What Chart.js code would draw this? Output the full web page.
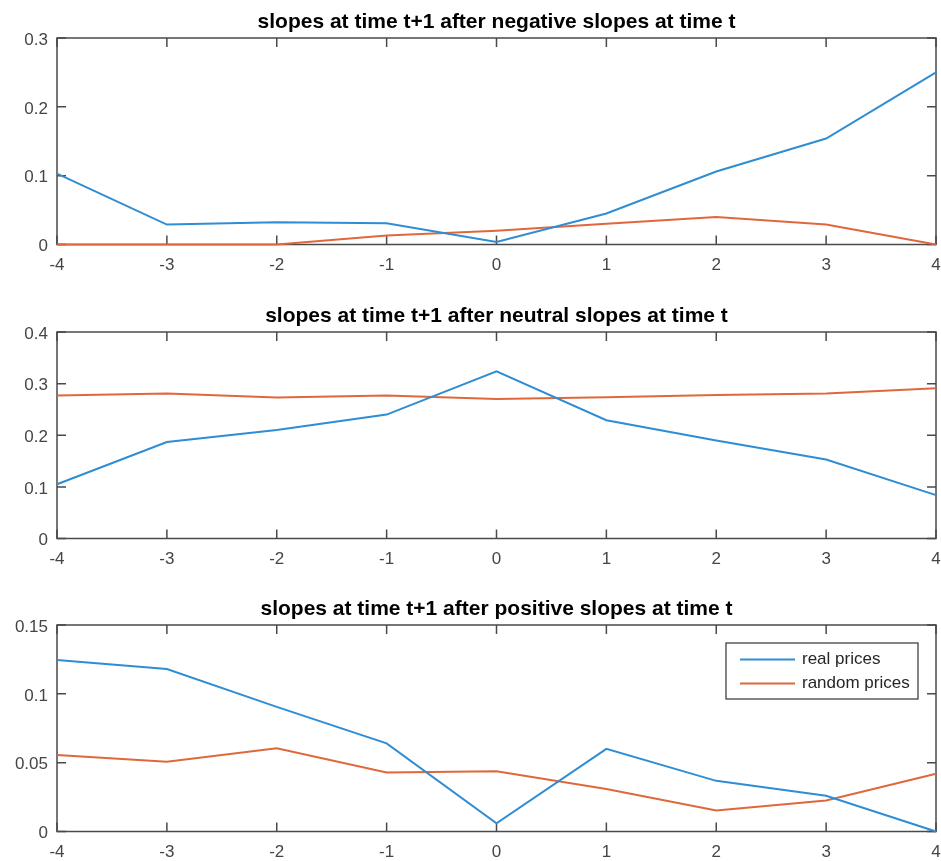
<!DOCTYPE html>
<html>
<head>
<meta charset="utf-8">
<script src="https://cdn.jsdelivr.net/npm/chart.js@4"></script>
<style>
  body { margin: 0; background: #fff; }
  .panel { position: absolute; left: 0; width: 941px; height: 274px; }
</style>
</head>
<body>
<div class="panel" style="top:0px"><canvas id="negChart" width="941" height="274"></canvas></div>
<div class="panel" style="top:293.5px"><canvas id="neuChart" width="941" height="274"></canvas></div>
<div class="panel" style="top:587px"><canvas id="posChart" width="941" height="274"></canvas></div>
<script>
const xValues = [-4, -3, -2, -1, 0, 1, 2, 3, 4];

const negReal   = [0.103, 0.029, 0.0325, 0.031, 0.0035, 0.045, 0.106, 0.154, 0.25];
const negRandom = [0, 0, 0, 0.013, 0.020, 0.030, 0.040, 0.029, 0];

const neuReal   = [0.105, 0.187, 0.210, 0.240, 0.324, 0.229, 0.190, 0.153, 0.084];
const neuRandom = [0.277, 0.281, 0.273, 0.277, 0.270, 0.2735, 0.278, 0.281, 0.291];

const posReal   = [0.1246, 0.118, 0.0905, 0.064, 0.006, 0.060, 0.0368, 0.026, 0];
const posRandom = [0.0556, 0.0506, 0.0605, 0.0428, 0.0438, 0.0308, 0.0152, 0.0225, 0.042];

const yTicksNeg = [0, 0.1, 0.2, 0.3];
const yTicksNeu = [0, 0.1, 0.2, 0.3, 0.4];
const yTicksPos = [0, 0.05, 0.1, 0.15];

const seriesNames = ["real prices", "random prices"];
const titles = [
  "slopes at time t+1 after negative slopes at time t",
  "slopes at time t+1 after neutral slopes at time t",
  "slopes at time t+1 after positive slopes at time t"
];

const BLUE = "#2f8dd4";
const ORANGE = "#e0673c";
const AXIS = "#4a4a4a";
const FONT = "'Liberation Sans', Arial, Helvetica, sans-serif";

// matlab style box with inward ticks on all four sides, under the lines
const boxPlugin = {
  id: "box",
  beforeDatasetsDraw(chart) {
    const { ctx, chartArea: a, scales } = chart;
    const tl = 9;
    ctx.save();
    ctx.strokeStyle = AXIS;
    ctx.lineWidth = 1.5;
    ctx.strokeRect(a.left, a.top, a.right - a.left, a.bottom - a.top);
    ctx.beginPath();
    scales.x.ticks.forEach(t => {
      const px = scales.x.getPixelForValue(t.value);
      ctx.moveTo(px, a.bottom); ctx.lineTo(px, a.bottom - tl);
      ctx.moveTo(px, a.top); ctx.lineTo(px, a.top + tl);
    });
    scales.y.ticks.forEach(t => {
      const py = scales.y.getPixelForValue(t.value);
      ctx.moveTo(a.left, py); ctx.lineTo(a.left + tl, py);
      ctx.moveTo(a.right, py); ctx.lineTo(a.right - tl, py);
    });
    ctx.stroke();
    ctx.restore();
  }
};

// legend box in the upper right corner (northeast)
const legendBoxPlugin = {
  id: "legendBox",
  afterDraw(chart) {
    const { ctx, chartArea: a } = chart;
    const w = 192, h = 56;
    const bx = a.right - 18 - w, by = a.top + 18;
    ctx.save();
    ctx.fillStyle = "#fff";
    ctx.fillRect(bx, by, w, h);
    ctx.strokeStyle = "#333";
    ctx.lineWidth = 1.2;
    ctx.strokeRect(bx, by, w, h);
    ctx.font = "17px " + FONT;
    ctx.textBaseline = "middle";
    chart.data.datasets.forEach((ds, i) => {
      const yy = by + 16.5 + i * 24;
      ctx.strokeStyle = ds.borderColor;
      ctx.lineWidth = 2;
      ctx.beginPath();
      ctx.moveTo(bx + 14, yy);
      ctx.lineTo(bx + 69, yy);
      ctx.stroke();
      ctx.fillStyle = "#262626";
      ctx.fillText(ds.label, bx + 76, yy);
    });
    ctx.restore();
  }
};

function makeChart(id, title, real, random, yTicks, withLegend) {
  const ctx = document.getElementById(id).getContext("2d");
  const yMax = yTicks[yTicks.length - 1];
  return new Chart(ctx, {
    type: "line",
    data: {
      datasets: [
        {
          label: seriesNames[0],
          data: xValues.map((x, i) => ({ x: x, y: real[i] })),
          borderColor: BLUE,
          borderWidth: 2,
          pointRadius: 0,
          tension: 0,
          clip: 3
        },
        {
          label: seriesNames[1],
          data: xValues.map((x, i) => ({ x: x, y: random[i] })),
          borderColor: ORANGE,
          borderWidth: 2,
          pointRadius: 0,
          tension: 0,
          clip: 3
        }
      ]
    },
    options: {
      responsive: false,
      animation: false,
      layout: { padding: { top: 0, left: 0, right: 5, bottom: 0 } },
      plugins: {
        legend: { display: false },
        tooltip: { enabled: false },
        title: {
          display: true,
          text: title,
          fullSize: false,
          color: "#000",
          font: { family: FONT, size: 21, weight: "bold" },
          padding: { top: 9.4, bottom: 3.4 }
        }
      },
      scales: {
        x: {
          type: "linear",
          min: -4,
          max: 4,
          grid: { display: false, drawTicks: false },
          border: { display: false },
          afterBuildTicks: s => { s.ticks = xValues.map(v => ({ value: v })); },
          afterFit: s => { s.height = 29.5; s.paddingLeft = 0; s.paddingRight = 0; },
          ticks: {
            autoSkip: false,
            maxRotation: 0,
            padding: 11,
            color: "#454545",
            font: { family: FONT, size: 17 }
          }
        },
        y: {
          min: 0,
          max: yMax,
          grid: { display: false, drawTicks: false },
          border: { display: false },
          afterBuildTicks: s => { s.ticks = yTicks.map(v => ({ value: v })); },
          afterFit: s => { s.width = 57; s.paddingTop = 0; s.paddingBottom = 0; },
          ticks: {
            padding: 9,
            labelOffset: 2,
            color: "#454545",
            font: { family: FONT, size: 17 },
            callback: v => String(+v.toFixed(2))
          }
        }
      }
    },
    plugins: withLegend ? [boxPlugin, legendBoxPlugin] : [boxPlugin]
  });
}

makeChart("negChart", titles[0], negReal, negRandom, yTicksNeg, false);
makeChart("neuChart", titles[1], neuReal, neuRandom, yTicksNeu, false);
makeChart("posChart", titles[2], posReal, posRandom, yTicksPos, true);
</script>
</body>
</html>
